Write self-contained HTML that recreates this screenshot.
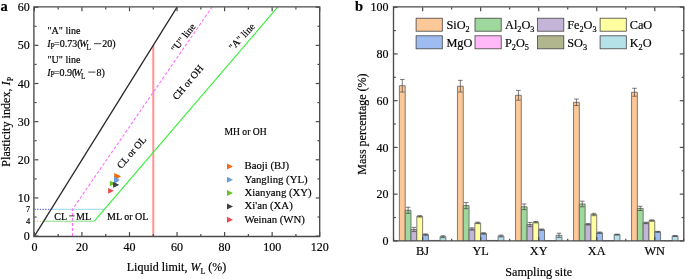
<!DOCTYPE html>
<html><head><meta charset="utf-8"><style>
html,body{margin:0;padding:0;background:#fff;width:685px;height:279px;overflow:hidden}
</style></head><body>
<svg width="685" height="279" viewBox="0 0 685 279" style="font-family:'Liberation Serif',serif;display:block;filter:blur(0.35px)">
<style>text{stroke:#000;stroke-width:0.18px;paint-order:fill}</style>
<rect width="685" height="279" fill="#fff"/>
<polyline points="34.40,209.39 51.04,209.39" fill="none" stroke="#6a6ad8" stroke-width="1.1" stroke-dasharray="1.3 1.4"/>
<polyline points="34.40,221.20 43.91,221.20" fill="none" stroke="#c8c888" stroke-width="1.1" stroke-dasharray="1.3 1.4"/>
<polyline points="51.04,209.39 104.75,209.39" fill="none" stroke="#a6e0ee" stroke-width="1.2"/>
<polyline points="153.28,236.10 153.28,45.35" fill="none" stroke="#ff9494" stroke-width="2"/>
<polyline points="72.44,236.10 72.44,209.39 211.92,7.20" fill="none" stroke="#ff6cff" stroke-width="1.1" stroke-dasharray="3 2"/>
<polyline points="43.91,221.20 94.30,221.20" fill="none" stroke="#84d884" stroke-width="1.0"/>
<polyline points="94.30,221.20 277.60,7.20" fill="none" stroke="#3cee3c" stroke-width="1.2"/>
<polyline points="34.40,236.10 177.05,7.20" fill="none" stroke="#2a2a2a" stroke-width="1.3"/>
<path d="M33.9,236.5 V6.9 H319.7 V236.5 Z" fill="none" stroke="#4a4a4a" stroke-width="1.35"/>
<line x1="34.40" y1="236.1" x2="34.40" y2="232.1" stroke="#4a4a4a" stroke-width="1.2"/>
<line x1="34.40" y1="7.2" x2="34.40" y2="11.2" stroke="#4a4a4a" stroke-width="1.2"/>
<line x1="58.17" y1="236.1" x2="58.17" y2="233.9" stroke="#4a4a4a" stroke-width="1.2"/>
<line x1="58.17" y1="7.2" x2="58.17" y2="9.4" stroke="#4a4a4a" stroke-width="1.2"/>
<line x1="81.95" y1="236.1" x2="81.95" y2="232.1" stroke="#4a4a4a" stroke-width="1.2"/>
<line x1="81.95" y1="7.2" x2="81.95" y2="11.2" stroke="#4a4a4a" stroke-width="1.2"/>
<line x1="105.72" y1="236.1" x2="105.72" y2="233.9" stroke="#4a4a4a" stroke-width="1.2"/>
<line x1="105.72" y1="7.2" x2="105.72" y2="9.4" stroke="#4a4a4a" stroke-width="1.2"/>
<line x1="129.50" y1="236.1" x2="129.50" y2="232.1" stroke="#4a4a4a" stroke-width="1.2"/>
<line x1="129.50" y1="7.2" x2="129.50" y2="11.2" stroke="#4a4a4a" stroke-width="1.2"/>
<line x1="153.28" y1="236.1" x2="153.28" y2="233.9" stroke="#4a4a4a" stroke-width="1.2"/>
<line x1="153.28" y1="7.2" x2="153.28" y2="9.4" stroke="#4a4a4a" stroke-width="1.2"/>
<line x1="177.05" y1="236.1" x2="177.05" y2="232.1" stroke="#4a4a4a" stroke-width="1.2"/>
<line x1="177.05" y1="7.2" x2="177.05" y2="11.2" stroke="#4a4a4a" stroke-width="1.2"/>
<line x1="200.83" y1="236.1" x2="200.83" y2="233.9" stroke="#4a4a4a" stroke-width="1.2"/>
<line x1="200.83" y1="7.2" x2="200.83" y2="9.4" stroke="#4a4a4a" stroke-width="1.2"/>
<line x1="224.60" y1="236.1" x2="224.60" y2="232.1" stroke="#4a4a4a" stroke-width="1.2"/>
<line x1="224.60" y1="7.2" x2="224.60" y2="11.2" stroke="#4a4a4a" stroke-width="1.2"/>
<line x1="248.38" y1="236.1" x2="248.38" y2="233.9" stroke="#4a4a4a" stroke-width="1.2"/>
<line x1="248.38" y1="7.2" x2="248.38" y2="9.4" stroke="#4a4a4a" stroke-width="1.2"/>
<line x1="272.15" y1="236.1" x2="272.15" y2="232.1" stroke="#4a4a4a" stroke-width="1.2"/>
<line x1="272.15" y1="7.2" x2="272.15" y2="11.2" stroke="#4a4a4a" stroke-width="1.2"/>
<line x1="295.92" y1="236.1" x2="295.92" y2="233.9" stroke="#4a4a4a" stroke-width="1.2"/>
<line x1="295.92" y1="7.2" x2="295.92" y2="9.4" stroke="#4a4a4a" stroke-width="1.2"/>
<line x1="319.70" y1="236.1" x2="319.70" y2="232.1" stroke="#4a4a4a" stroke-width="1.2"/>
<line x1="319.70" y1="7.2" x2="319.70" y2="11.2" stroke="#4a4a4a" stroke-width="1.2"/>
<line x1="34.4" y1="236.10" x2="38.4" y2="236.10" stroke="#4a4a4a" stroke-width="1.2"/>
<line x1="319.7" y1="236.10" x2="315.7" y2="236.10" stroke="#4a4a4a" stroke-width="1.2"/>
<line x1="34.4" y1="217.03" x2="36.6" y2="217.03" stroke="#4a4a4a" stroke-width="1.2"/>
<line x1="319.7" y1="217.03" x2="317.5" y2="217.03" stroke="#4a4a4a" stroke-width="1.2"/>
<line x1="34.4" y1="197.95" x2="38.4" y2="197.95" stroke="#4a4a4a" stroke-width="1.2"/>
<line x1="319.7" y1="197.95" x2="315.7" y2="197.95" stroke="#4a4a4a" stroke-width="1.2"/>
<line x1="34.4" y1="178.88" x2="36.6" y2="178.88" stroke="#4a4a4a" stroke-width="1.2"/>
<line x1="319.7" y1="178.88" x2="317.5" y2="178.88" stroke="#4a4a4a" stroke-width="1.2"/>
<line x1="34.4" y1="159.80" x2="38.4" y2="159.80" stroke="#4a4a4a" stroke-width="1.2"/>
<line x1="319.7" y1="159.80" x2="315.7" y2="159.80" stroke="#4a4a4a" stroke-width="1.2"/>
<line x1="34.4" y1="140.72" x2="36.6" y2="140.72" stroke="#4a4a4a" stroke-width="1.2"/>
<line x1="319.7" y1="140.72" x2="317.5" y2="140.72" stroke="#4a4a4a" stroke-width="1.2"/>
<line x1="34.4" y1="121.65" x2="38.4" y2="121.65" stroke="#4a4a4a" stroke-width="1.2"/>
<line x1="319.7" y1="121.65" x2="315.7" y2="121.65" stroke="#4a4a4a" stroke-width="1.2"/>
<line x1="34.4" y1="102.57" x2="36.6" y2="102.57" stroke="#4a4a4a" stroke-width="1.2"/>
<line x1="319.7" y1="102.57" x2="317.5" y2="102.57" stroke="#4a4a4a" stroke-width="1.2"/>
<line x1="34.4" y1="83.50" x2="38.4" y2="83.50" stroke="#4a4a4a" stroke-width="1.2"/>
<line x1="319.7" y1="83.50" x2="315.7" y2="83.50" stroke="#4a4a4a" stroke-width="1.2"/>
<line x1="34.4" y1="64.42" x2="36.6" y2="64.42" stroke="#4a4a4a" stroke-width="1.2"/>
<line x1="319.7" y1="64.42" x2="317.5" y2="64.42" stroke="#4a4a4a" stroke-width="1.2"/>
<line x1="34.4" y1="45.35" x2="38.4" y2="45.35" stroke="#4a4a4a" stroke-width="1.2"/>
<line x1="319.7" y1="45.35" x2="315.7" y2="45.35" stroke="#4a4a4a" stroke-width="1.2"/>
<line x1="34.4" y1="26.28" x2="36.6" y2="26.28" stroke="#4a4a4a" stroke-width="1.2"/>
<line x1="319.7" y1="26.28" x2="317.5" y2="26.28" stroke="#4a4a4a" stroke-width="1.2"/>
<line x1="34.4" y1="7.20" x2="38.4" y2="7.20" stroke="#4a4a4a" stroke-width="1.2"/>
<line x1="319.7" y1="7.20" x2="315.7" y2="7.20" stroke="#4a4a4a" stroke-width="1.2"/>
<text x="34.40" y="251" font-size="12" text-anchor="middle" fill="#000">0</text>
<text x="81.95" y="251" font-size="12" text-anchor="middle" fill="#000">20</text>
<text x="129.50" y="251" font-size="12" text-anchor="middle" fill="#000">40</text>
<text x="177.05" y="251" font-size="12" text-anchor="middle" fill="#000">60</text>
<text x="224.60" y="251" font-size="12" text-anchor="middle" fill="#000">80</text>
<text x="272.15" y="251" font-size="12" text-anchor="middle" fill="#000">100</text>
<text x="319.70" y="251" font-size="12" text-anchor="middle" fill="#000">120</text>
<text x="29.8" y="240.20" font-size="12" text-anchor="end" fill="#000">0</text>
<text x="29.8" y="202.05" font-size="12" text-anchor="end" fill="#000">10</text>
<text x="29.8" y="163.90" font-size="12" text-anchor="end" fill="#000">20</text>
<text x="29.8" y="125.75" font-size="12" text-anchor="end" fill="#000">30</text>
<text x="29.8" y="87.60" font-size="12" text-anchor="end" fill="#000">40</text>
<text x="29.8" y="49.45" font-size="12" text-anchor="end" fill="#000">50</text>
<text x="29.8" y="11.30" font-size="12" text-anchor="end" fill="#000">60</text>
<text x="30.2" y="223.84" font-size="8.5" text-anchor="end" fill="#000">4</text>
<text x="30.2" y="212.39" font-size="8.5" text-anchor="end" fill="#000">7</text>
<text x="176.5" y="270.5" font-size="12" text-anchor="middle" fill="#000">Liquid limit, <tspan font-style="italic">W</tspan><tspan font-size="8" dy="3.3">L</tspan><tspan dy="-3.3"> (%)</tspan></text>
<text transform="translate(9.6,121.8) rotate(-90)" font-size="12.15" text-anchor="middle" fill="#000">Plasticity index, <tspan font-style="italic">I</tspan><tspan font-size="8" dy="3.1">P</tspan></text>
<text x="0.5" y="11.2" font-size="14.5" font-weight="bold" fill="#000">a</text>
<text x="47.5" y="34.2" font-size="10" fill="#000">"A" line</text>
<text x="47.3" y="47.2" font-size="10" font-style="italic" fill="#000">I</text>
<text x="50.6" y="48.7" font-size="7.4" fill="#000">P</text>
<text x="54.0" y="47.2" font-size="10" fill="#000">=0.73(</text>
<text x="79.2" y="47.2" font-size="10" font-style="italic" fill="#000">W</text>
<text x="86.6" y="50.1" font-size="7.2" fill="#000">L</text>
<line x1="94.0" y1="43.7" x2="101.2" y2="43.7" stroke="#000" stroke-width="0.75"/>
<text x="102.2" y="47.2" font-size="10" fill="#000">20)</text>
<text x="47.3" y="75.6" font-size="10" font-style="italic" fill="#000">I</text>
<text x="50.6" y="77.1" font-size="7.4" fill="#000">P</text>
<text x="53.9" y="75.6" font-size="10" fill="#000">=0.9(</text>
<text x="73.4" y="75.6" font-size="10" font-style="italic" fill="#000">W</text>
<text x="80.9" y="78.5" font-size="7.2" fill="#000">L</text>
<line x1="88.2" y1="72.1" x2="95.4" y2="72.1" stroke="#000" stroke-width="0.75"/>
<text x="96.4" y="75.6" font-size="10" fill="#000">8)</text>
<text x="47.5" y="63" font-size="10" fill="#000">"U" line</text>
<text x="224.5" y="134.7" font-size="9.6" fill="#000">MH or OH</text>
<text x="54.3" y="219.5" font-size="10" fill="#000">CL</text>
<line x1="69.1" y1="215.9" x2="74.6" y2="215.9" stroke="#000" stroke-width="0.75"/>
<text x="76.1" y="219.5" font-size="10" fill="#000">ML</text>
<text x="107" y="219.5" font-size="10" fill="#000">ML or OL</text>
<text transform="translate(175.7,52.7) rotate(-52)" font-size="10" fill="#000">"U" line</text>
<text transform="translate(233,51) rotate(-47)" font-size="10" fill="#000">"A" line</text>
<text transform="translate(177,100.5) rotate(-50)" font-size="10" fill="#000">CH or OH</text>
<text transform="translate(121.2,169.3) rotate(-49)" font-size="10" fill="#000">CL or OL</text>
<polygon points="114.20,173.00 119.80,175.80 114.20,178.60" fill="#f86a12"/>
<polygon points="115.40,173.80 121.00,176.60 115.40,179.40" fill="#f86a12"/>
<polygon points="114.00,176.50 119.60,179.30 114.00,182.10" fill="#6a9ed8"/>
<polygon points="114.00,178.00 119.60,180.80 114.00,183.60" fill="#6a9ed8"/>
<polygon points="109.90,180.70 115.50,183.50 109.90,186.30" fill="#68c226"/>
<polygon points="113.10,182.20 118.70,185.00 113.10,187.80" fill="#404040"/>
<polygon points="113.50,181.90 119.10,184.70 113.50,187.50" fill="#404040"/>
<polygon points="108.10,187.90 113.90,190.80 108.10,193.70" fill="#e84a50"/>
<polygon points="227.00,163.50 233.00,166.50 227.00,169.50" fill="#f86a12"/>
<text x="244.5" y="169.4" font-size="10.75" fill="#000">Baoji (BJ)</text>
<polygon points="227.00,176.80 233.00,179.80 227.00,182.80" fill="#6a9ed8"/>
<text x="244.5" y="182.70000000000002" font-size="10.75" fill="#000">Yangling (YL)</text>
<polygon points="227.00,190.10 233.00,193.10 227.00,196.10" fill="#68c226"/>
<text x="244.5" y="196.0" font-size="10.75" fill="#000">Xianyang (XY)</text>
<polygon points="227.00,203.40 233.00,206.40 227.00,209.40" fill="#404040"/>
<text x="244.5" y="209.3" font-size="10.75" fill="#000">Xi'an (XA)</text>
<polygon points="227.00,216.70 233.00,219.70 227.00,222.70" fill="#e84a50"/>
<text x="244.5" y="222.60000000000002" font-size="10.75" fill="#000">Weinan (WN)</text>
<text x="355" y="10.9" font-size="14.5" font-weight="bold" fill="#000">b</text>
<rect x="399.40" y="85.72" width="5.80" height="155.18" fill="#fdc898"/>
<path d="M399.40,240.9 V85.72 H405.21 V240.9" fill="none" stroke="#555" stroke-width="0.75"/>
<line x1="402.31" y1="79.41" x2="402.31" y2="92.03" stroke="#444" stroke-width="0.7"/>
<line x1="400.01" y1="79.41" x2="404.61" y2="79.41" stroke="#444" stroke-width="0.7"/>
<line x1="400.01" y1="92.03" x2="404.61" y2="92.03" stroke="#444" stroke-width="0.7"/>
<rect x="405.21" y="210.29" width="5.80" height="30.61" fill="#9ed89c"/>
<path d="M405.21,240.9 V210.29 H411.01 V240.9" fill="none" stroke="#555" stroke-width="0.75"/>
<line x1="408.11" y1="207.25" x2="408.11" y2="213.32" stroke="#444" stroke-width="0.7"/>
<line x1="405.81" y1="207.25" x2="410.41" y2="207.25" stroke="#444" stroke-width="0.7"/>
<line x1="405.81" y1="213.32" x2="410.41" y2="213.32" stroke="#444" stroke-width="0.7"/>
<rect x="411.01" y="229.45" width="5.80" height="11.45" fill="#c4b4d8"/>
<path d="M411.01,240.9 V229.45 H416.82 V240.9" fill="none" stroke="#555" stroke-width="0.75"/>
<line x1="413.91" y1="227.35" x2="413.91" y2="231.55" stroke="#444" stroke-width="0.7"/>
<line x1="411.61" y1="227.35" x2="416.21" y2="227.35" stroke="#444" stroke-width="0.7"/>
<line x1="411.61" y1="231.55" x2="416.21" y2="231.55" stroke="#444" stroke-width="0.7"/>
<rect x="416.82" y="216.36" width="5.80" height="24.54" fill="#ffffa0"/>
<path d="M416.82,240.9 V216.36 H422.62 V240.9" fill="none" stroke="#555" stroke-width="0.75"/>
<line x1="419.72" y1="215.66" x2="419.72" y2="217.06" stroke="#444" stroke-width="0.7"/>
<line x1="417.42" y1="215.66" x2="422.02" y2="215.66" stroke="#444" stroke-width="0.7"/>
<line x1="417.42" y1="217.06" x2="422.02" y2="217.06" stroke="#444" stroke-width="0.7"/>
<rect x="422.62" y="234.59" width="5.80" height="6.31" fill="#9ebcf2"/>
<path d="M422.62,240.9 V234.59 H428.42 V240.9" fill="none" stroke="#555" stroke-width="0.75"/>
<line x1="425.52" y1="233.89" x2="425.52" y2="235.29" stroke="#444" stroke-width="0.7"/>
<line x1="423.22" y1="233.89" x2="427.82" y2="233.89" stroke="#444" stroke-width="0.7"/>
<line x1="423.22" y1="235.29" x2="427.82" y2="235.29" stroke="#444" stroke-width="0.7"/>
<rect x="428.42" y="240.43" width="5.80" height="0.47" fill="#ffb8f8"/>
<path d="M428.42,240.9 V240.43 H434.23 V240.9" fill="none" stroke="#555" stroke-width="0.75"/>
<rect x="434.23" y="240.43" width="5.80" height="0.47" fill="#b2b68e"/>
<path d="M434.23,240.9 V240.43 H440.03 V240.9" fill="none" stroke="#555" stroke-width="0.75"/>
<rect x="440.03" y="236.69" width="5.80" height="4.21" fill="#b4e2e8"/>
<path d="M440.03,240.9 V236.69 H445.84 V240.9" fill="none" stroke="#555" stroke-width="0.75"/>
<line x1="442.93" y1="235.76" x2="442.93" y2="237.63" stroke="#444" stroke-width="0.7"/>
<line x1="440.63" y1="235.76" x2="445.23" y2="235.76" stroke="#444" stroke-width="0.7"/>
<line x1="440.63" y1="237.63" x2="445.23" y2="237.63" stroke="#444" stroke-width="0.7"/>
<text x="422.62" y="255.4" font-size="12.3" text-anchor="middle" fill="#000">BJ</text>
<rect x="457.44" y="86.19" width="5.80" height="154.71" fill="#fdc898"/>
<path d="M457.44,240.9 V86.19 H463.25 V240.9" fill="none" stroke="#555" stroke-width="0.75"/>
<line x1="460.35" y1="80.35" x2="460.35" y2="92.03" stroke="#444" stroke-width="0.7"/>
<line x1="458.05" y1="80.35" x2="462.65" y2="80.35" stroke="#444" stroke-width="0.7"/>
<line x1="458.05" y1="92.03" x2="462.65" y2="92.03" stroke="#444" stroke-width="0.7"/>
<rect x="463.25" y="205.61" width="5.80" height="35.29" fill="#9ed89c"/>
<path d="M463.25,240.9 V205.61 H469.05 V240.9" fill="none" stroke="#555" stroke-width="0.75"/>
<line x1="466.15" y1="202.57" x2="466.15" y2="208.65" stroke="#444" stroke-width="0.7"/>
<line x1="463.85" y1="202.57" x2="468.45" y2="202.57" stroke="#444" stroke-width="0.7"/>
<line x1="463.85" y1="208.65" x2="468.45" y2="208.65" stroke="#444" stroke-width="0.7"/>
<rect x="469.05" y="228.98" width="5.80" height="11.92" fill="#c4b4d8"/>
<path d="M469.05,240.9 V228.98 H474.86 V240.9" fill="none" stroke="#555" stroke-width="0.75"/>
<line x1="471.95" y1="227.81" x2="471.95" y2="230.15" stroke="#444" stroke-width="0.7"/>
<line x1="469.65" y1="227.81" x2="474.25" y2="227.81" stroke="#444" stroke-width="0.7"/>
<line x1="469.65" y1="230.15" x2="474.25" y2="230.15" stroke="#444" stroke-width="0.7"/>
<rect x="474.86" y="222.91" width="5.80" height="17.99" fill="#ffffa0"/>
<path d="M474.86,240.9 V222.91 H480.66 V240.9" fill="none" stroke="#555" stroke-width="0.75"/>
<line x1="477.76" y1="222.20" x2="477.76" y2="223.61" stroke="#444" stroke-width="0.7"/>
<line x1="475.46" y1="222.20" x2="480.06" y2="222.20" stroke="#444" stroke-width="0.7"/>
<line x1="475.46" y1="223.61" x2="480.06" y2="223.61" stroke="#444" stroke-width="0.7"/>
<rect x="480.66" y="233.42" width="5.80" height="7.48" fill="#9ebcf2"/>
<path d="M480.66,240.9 V233.42 H486.46 V240.9" fill="none" stroke="#555" stroke-width="0.75"/>
<line x1="483.56" y1="232.72" x2="483.56" y2="234.12" stroke="#444" stroke-width="0.7"/>
<line x1="481.26" y1="232.72" x2="485.86" y2="232.72" stroke="#444" stroke-width="0.7"/>
<line x1="481.26" y1="234.12" x2="485.86" y2="234.12" stroke="#444" stroke-width="0.7"/>
<rect x="486.46" y="240.43" width="5.80" height="0.47" fill="#ffb8f8"/>
<path d="M486.46,240.9 V240.43 H492.27 V240.9" fill="none" stroke="#555" stroke-width="0.75"/>
<rect x="492.27" y="240.43" width="5.80" height="0.47" fill="#b2b68e"/>
<path d="M492.27,240.9 V240.43 H498.07 V240.9" fill="none" stroke="#555" stroke-width="0.75"/>
<rect x="498.07" y="235.99" width="5.80" height="4.91" fill="#b4e2e8"/>
<path d="M498.07,240.9 V235.99 H503.88 V240.9" fill="none" stroke="#555" stroke-width="0.75"/>
<line x1="500.97" y1="235.06" x2="500.97" y2="236.93" stroke="#444" stroke-width="0.7"/>
<line x1="498.67" y1="235.06" x2="503.27" y2="235.06" stroke="#444" stroke-width="0.7"/>
<line x1="498.67" y1="236.93" x2="503.27" y2="236.93" stroke="#444" stroke-width="0.7"/>
<text x="480.66" y="255.4" font-size="12.3" text-anchor="middle" fill="#000">YL</text>
<rect x="515.48" y="95.30" width="5.80" height="145.60" fill="#fdc898"/>
<path d="M515.48,240.9 V95.30 H521.29 V240.9" fill="none" stroke="#555" stroke-width="0.75"/>
<line x1="518.39" y1="90.40" x2="518.39" y2="100.21" stroke="#444" stroke-width="0.7"/>
<line x1="516.09" y1="90.40" x2="520.69" y2="90.40" stroke="#444" stroke-width="0.7"/>
<line x1="516.09" y1="100.21" x2="520.69" y2="100.21" stroke="#444" stroke-width="0.7"/>
<rect x="521.29" y="206.78" width="5.80" height="34.12" fill="#9ed89c"/>
<path d="M521.29,240.9 V206.78 H527.09 V240.9" fill="none" stroke="#555" stroke-width="0.75"/>
<line x1="524.19" y1="203.98" x2="524.19" y2="209.58" stroke="#444" stroke-width="0.7"/>
<line x1="521.89" y1="203.98" x2="526.49" y2="203.98" stroke="#444" stroke-width="0.7"/>
<line x1="521.89" y1="209.58" x2="526.49" y2="209.58" stroke="#444" stroke-width="0.7"/>
<rect x="527.09" y="224.54" width="5.80" height="16.36" fill="#c4b4d8"/>
<path d="M527.09,240.9 V224.54 H532.90 V240.9" fill="none" stroke="#555" stroke-width="0.75"/>
<line x1="529.99" y1="222.44" x2="529.99" y2="226.64" stroke="#444" stroke-width="0.7"/>
<line x1="527.69" y1="222.44" x2="532.29" y2="222.44" stroke="#444" stroke-width="0.7"/>
<line x1="527.69" y1="226.64" x2="532.29" y2="226.64" stroke="#444" stroke-width="0.7"/>
<rect x="532.90" y="222.20" width="5.80" height="18.70" fill="#ffffa0"/>
<path d="M532.90,240.9 V222.20 H538.70 V240.9" fill="none" stroke="#555" stroke-width="0.75"/>
<line x1="535.80" y1="221.50" x2="535.80" y2="222.91" stroke="#444" stroke-width="0.7"/>
<line x1="533.50" y1="221.50" x2="538.10" y2="221.50" stroke="#444" stroke-width="0.7"/>
<line x1="533.50" y1="222.91" x2="538.10" y2="222.91" stroke="#444" stroke-width="0.7"/>
<rect x="538.70" y="229.68" width="5.80" height="11.22" fill="#9ebcf2"/>
<path d="M538.70,240.9 V229.68 H544.50 V240.9" fill="none" stroke="#555" stroke-width="0.75"/>
<line x1="541.60" y1="228.98" x2="541.60" y2="230.38" stroke="#444" stroke-width="0.7"/>
<line x1="539.30" y1="228.98" x2="543.90" y2="228.98" stroke="#444" stroke-width="0.7"/>
<line x1="539.30" y1="230.38" x2="543.90" y2="230.38" stroke="#444" stroke-width="0.7"/>
<rect x="544.50" y="240.67" width="5.80" height="0.23" fill="#ffb8f8"/>
<path d="M544.50,240.9 V240.67 H550.31 V240.9" fill="none" stroke="#555" stroke-width="0.75"/>
<rect x="550.31" y="240.67" width="5.80" height="0.23" fill="#b2b68e"/>
<path d="M550.31,240.9 V240.67 H556.11 V240.9" fill="none" stroke="#555" stroke-width="0.75"/>
<rect x="556.11" y="235.29" width="5.80" height="5.61" fill="#b4e2e8"/>
<path d="M556.11,240.9 V235.29 H561.92 V240.9" fill="none" stroke="#555" stroke-width="0.75"/>
<line x1="559.01" y1="233.19" x2="559.01" y2="237.39" stroke="#444" stroke-width="0.7"/>
<line x1="556.71" y1="233.19" x2="561.31" y2="233.19" stroke="#444" stroke-width="0.7"/>
<line x1="556.71" y1="237.39" x2="561.31" y2="237.39" stroke="#444" stroke-width="0.7"/>
<text x="538.70" y="255.4" font-size="12.3" text-anchor="middle" fill="#000">XY</text>
<rect x="573.52" y="102.32" width="5.80" height="138.58" fill="#fdc898"/>
<path d="M573.52,240.9 V102.32 H579.33 V240.9" fill="none" stroke="#555" stroke-width="0.75"/>
<line x1="576.43" y1="99.04" x2="576.43" y2="105.59" stroke="#444" stroke-width="0.7"/>
<line x1="574.13" y1="99.04" x2="578.73" y2="99.04" stroke="#444" stroke-width="0.7"/>
<line x1="574.13" y1="105.59" x2="578.73" y2="105.59" stroke="#444" stroke-width="0.7"/>
<rect x="579.33" y="203.98" width="5.80" height="36.92" fill="#9ed89c"/>
<path d="M579.33,240.9 V203.98 H585.13 V240.9" fill="none" stroke="#555" stroke-width="0.75"/>
<line x1="582.23" y1="201.17" x2="582.23" y2="206.78" stroke="#444" stroke-width="0.7"/>
<line x1="579.93" y1="201.17" x2="584.53" y2="201.17" stroke="#444" stroke-width="0.7"/>
<line x1="579.93" y1="206.78" x2="584.53" y2="206.78" stroke="#444" stroke-width="0.7"/>
<rect x="585.13" y="224.31" width="5.80" height="16.59" fill="#c4b4d8"/>
<path d="M585.13,240.9 V224.31 H590.94 V240.9" fill="none" stroke="#555" stroke-width="0.75"/>
<line x1="588.03" y1="223.61" x2="588.03" y2="225.01" stroke="#444" stroke-width="0.7"/>
<line x1="585.73" y1="223.61" x2="590.33" y2="223.61" stroke="#444" stroke-width="0.7"/>
<line x1="585.73" y1="225.01" x2="590.33" y2="225.01" stroke="#444" stroke-width="0.7"/>
<rect x="590.94" y="214.49" width="5.80" height="26.41" fill="#ffffa0"/>
<path d="M590.94,240.9 V214.49 H596.74 V240.9" fill="none" stroke="#555" stroke-width="0.75"/>
<line x1="593.84" y1="213.32" x2="593.84" y2="215.66" stroke="#444" stroke-width="0.7"/>
<line x1="591.54" y1="213.32" x2="596.14" y2="213.32" stroke="#444" stroke-width="0.7"/>
<line x1="591.54" y1="215.66" x2="596.14" y2="215.66" stroke="#444" stroke-width="0.7"/>
<rect x="596.74" y="232.72" width="5.80" height="8.18" fill="#9ebcf2"/>
<path d="M596.74,240.9 V232.72 H602.54 V240.9" fill="none" stroke="#555" stroke-width="0.75"/>
<line x1="599.64" y1="232.02" x2="599.64" y2="233.42" stroke="#444" stroke-width="0.7"/>
<line x1="597.34" y1="232.02" x2="601.94" y2="232.02" stroke="#444" stroke-width="0.7"/>
<line x1="597.34" y1="233.42" x2="601.94" y2="233.42" stroke="#444" stroke-width="0.7"/>
<rect x="602.54" y="240.67" width="5.80" height="0.23" fill="#ffb8f8"/>
<path d="M602.54,240.9 V240.67 H608.35 V240.9" fill="none" stroke="#555" stroke-width="0.75"/>
<rect x="608.35" y="240.67" width="5.80" height="0.23" fill="#b2b68e"/>
<path d="M608.35,240.9 V240.67 H614.15 V240.9" fill="none" stroke="#555" stroke-width="0.75"/>
<rect x="614.15" y="234.59" width="5.80" height="6.31" fill="#b4e2e8"/>
<path d="M614.15,240.9 V234.59 H619.96 V240.9" fill="none" stroke="#555" stroke-width="0.75"/>
<line x1="617.05" y1="234.12" x2="617.05" y2="235.06" stroke="#444" stroke-width="0.7"/>
<line x1="614.75" y1="234.12" x2="619.35" y2="234.12" stroke="#444" stroke-width="0.7"/>
<line x1="614.75" y1="235.06" x2="619.35" y2="235.06" stroke="#444" stroke-width="0.7"/>
<text x="596.74" y="255.4" font-size="12.3" text-anchor="middle" fill="#000">XA</text>
<rect x="631.56" y="92.27" width="5.80" height="148.63" fill="#fdc898"/>
<path d="M631.56,240.9 V92.27 H637.37 V240.9" fill="none" stroke="#555" stroke-width="0.75"/>
<line x1="634.47" y1="88.29" x2="634.47" y2="96.24" stroke="#444" stroke-width="0.7"/>
<line x1="632.17" y1="88.29" x2="636.77" y2="88.29" stroke="#444" stroke-width="0.7"/>
<line x1="632.17" y1="96.24" x2="636.77" y2="96.24" stroke="#444" stroke-width="0.7"/>
<rect x="637.37" y="208.42" width="5.80" height="32.48" fill="#9ed89c"/>
<path d="M637.37,240.9 V208.42 H643.17 V240.9" fill="none" stroke="#555" stroke-width="0.75"/>
<line x1="640.27" y1="206.31" x2="640.27" y2="210.52" stroke="#444" stroke-width="0.7"/>
<line x1="637.97" y1="206.31" x2="642.57" y2="206.31" stroke="#444" stroke-width="0.7"/>
<line x1="637.97" y1="210.52" x2="642.57" y2="210.52" stroke="#444" stroke-width="0.7"/>
<rect x="643.17" y="222.91" width="5.80" height="17.99" fill="#c4b4d8"/>
<path d="M643.17,240.9 V222.91 H648.98 V240.9" fill="none" stroke="#555" stroke-width="0.75"/>
<line x1="646.07" y1="222.20" x2="646.07" y2="223.61" stroke="#444" stroke-width="0.7"/>
<line x1="643.77" y1="222.20" x2="648.37" y2="222.20" stroke="#444" stroke-width="0.7"/>
<line x1="643.77" y1="223.61" x2="648.37" y2="223.61" stroke="#444" stroke-width="0.7"/>
<rect x="648.98" y="220.57" width="5.80" height="20.33" fill="#ffffa0"/>
<path d="M648.98,240.9 V220.57 H654.78 V240.9" fill="none" stroke="#555" stroke-width="0.75"/>
<line x1="651.88" y1="219.87" x2="651.88" y2="221.27" stroke="#444" stroke-width="0.7"/>
<line x1="649.58" y1="219.87" x2="654.18" y2="219.87" stroke="#444" stroke-width="0.7"/>
<line x1="649.58" y1="221.27" x2="654.18" y2="221.27" stroke="#444" stroke-width="0.7"/>
<rect x="654.78" y="231.79" width="5.80" height="9.11" fill="#9ebcf2"/>
<path d="M654.78,240.9 V231.79 H660.58 V240.9" fill="none" stroke="#555" stroke-width="0.75"/>
<line x1="657.68" y1="231.32" x2="657.68" y2="232.25" stroke="#444" stroke-width="0.7"/>
<line x1="655.38" y1="231.32" x2="659.98" y2="231.32" stroke="#444" stroke-width="0.7"/>
<line x1="655.38" y1="232.25" x2="659.98" y2="232.25" stroke="#444" stroke-width="0.7"/>
<rect x="660.58" y="240.67" width="5.80" height="0.23" fill="#ffb8f8"/>
<path d="M660.58,240.9 V240.67 H666.39 V240.9" fill="none" stroke="#555" stroke-width="0.75"/>
<rect x="666.39" y="240.67" width="5.80" height="0.23" fill="#b2b68e"/>
<path d="M666.39,240.9 V240.67 H672.19 V240.9" fill="none" stroke="#555" stroke-width="0.75"/>
<rect x="672.19" y="235.99" width="5.80" height="4.91" fill="#b4e2e8"/>
<path d="M672.19,240.9 V235.99 H678.00 V240.9" fill="none" stroke="#555" stroke-width="0.75"/>
<line x1="675.09" y1="235.52" x2="675.09" y2="236.46" stroke="#444" stroke-width="0.7"/>
<line x1="672.79" y1="235.52" x2="677.39" y2="235.52" stroke="#444" stroke-width="0.7"/>
<line x1="672.79" y1="236.46" x2="677.39" y2="236.46" stroke="#444" stroke-width="0.7"/>
<text x="654.78" y="255.4" font-size="12.3" text-anchor="middle" fill="#000">WN</text>
<path d="M393.5,240.9 V6.9 H683.8 V240.9 Z" fill="none" stroke="#4a4a4a" stroke-width="1.35"/>
<line x1="393.6" y1="240.90" x2="397.6" y2="240.90" stroke="#4a4a4a" stroke-width="1.2"/>
<line x1="683.8" y1="240.90" x2="679.8" y2="240.90" stroke="#4a4a4a" stroke-width="1.2"/>
<text x="388.5" y="245.00" font-size="12" text-anchor="end" fill="#000">0</text>
<line x1="393.6" y1="217.53" x2="395.8" y2="217.53" stroke="#4a4a4a" stroke-width="1.2"/>
<line x1="683.8" y1="217.53" x2="681.5999999999999" y2="217.53" stroke="#4a4a4a" stroke-width="1.2"/>
<line x1="393.6" y1="194.16" x2="397.6" y2="194.16" stroke="#4a4a4a" stroke-width="1.2"/>
<line x1="683.8" y1="194.16" x2="679.8" y2="194.16" stroke="#4a4a4a" stroke-width="1.2"/>
<text x="388.5" y="198.26" font-size="12" text-anchor="end" fill="#000">20</text>
<line x1="393.6" y1="170.79" x2="395.8" y2="170.79" stroke="#4a4a4a" stroke-width="1.2"/>
<line x1="683.8" y1="170.79" x2="681.5999999999999" y2="170.79" stroke="#4a4a4a" stroke-width="1.2"/>
<line x1="393.6" y1="147.42" x2="397.6" y2="147.42" stroke="#4a4a4a" stroke-width="1.2"/>
<line x1="683.8" y1="147.42" x2="679.8" y2="147.42" stroke="#4a4a4a" stroke-width="1.2"/>
<text x="388.5" y="151.52" font-size="12" text-anchor="end" fill="#000">40</text>
<line x1="393.6" y1="124.05" x2="395.8" y2="124.05" stroke="#4a4a4a" stroke-width="1.2"/>
<line x1="683.8" y1="124.05" x2="681.5999999999999" y2="124.05" stroke="#4a4a4a" stroke-width="1.2"/>
<line x1="393.6" y1="100.68" x2="397.6" y2="100.68" stroke="#4a4a4a" stroke-width="1.2"/>
<line x1="683.8" y1="100.68" x2="679.8" y2="100.68" stroke="#4a4a4a" stroke-width="1.2"/>
<text x="388.5" y="104.78" font-size="12" text-anchor="end" fill="#000">60</text>
<line x1="393.6" y1="77.31" x2="395.8" y2="77.31" stroke="#4a4a4a" stroke-width="1.2"/>
<line x1="683.8" y1="77.31" x2="681.5999999999999" y2="77.31" stroke="#4a4a4a" stroke-width="1.2"/>
<line x1="393.6" y1="53.94" x2="397.6" y2="53.94" stroke="#4a4a4a" stroke-width="1.2"/>
<line x1="683.8" y1="53.94" x2="679.8" y2="53.94" stroke="#4a4a4a" stroke-width="1.2"/>
<text x="388.5" y="58.04" font-size="12" text-anchor="end" fill="#000">80</text>
<line x1="393.6" y1="30.57" x2="395.8" y2="30.57" stroke="#4a4a4a" stroke-width="1.2"/>
<line x1="683.8" y1="30.57" x2="681.5999999999999" y2="30.57" stroke="#4a4a4a" stroke-width="1.2"/>
<line x1="393.6" y1="7.20" x2="397.6" y2="7.20" stroke="#4a4a4a" stroke-width="1.2"/>
<line x1="683.8" y1="7.20" x2="679.8" y2="7.20" stroke="#4a4a4a" stroke-width="1.2"/>
<text x="388.5" y="11.30" font-size="12" text-anchor="end" fill="#000">100</text>
<line x1="393.60" y1="240.9" x2="393.60" y2="238.70000000000002" stroke="#4a4a4a" stroke-width="1.2"/>
<line x1="393.60" y1="7.2" x2="393.60" y2="9.4" stroke="#4a4a4a" stroke-width="1.2"/>
<line x1="422.62" y1="240.9" x2="422.62" y2="236.9" stroke="#4a4a4a" stroke-width="1.2"/>
<line x1="422.62" y1="7.2" x2="422.62" y2="11.2" stroke="#4a4a4a" stroke-width="1.2"/>
<line x1="451.64" y1="240.9" x2="451.64" y2="238.70000000000002" stroke="#4a4a4a" stroke-width="1.2"/>
<line x1="451.64" y1="7.2" x2="451.64" y2="9.4" stroke="#4a4a4a" stroke-width="1.2"/>
<line x1="480.66" y1="240.9" x2="480.66" y2="236.9" stroke="#4a4a4a" stroke-width="1.2"/>
<line x1="480.66" y1="7.2" x2="480.66" y2="11.2" stroke="#4a4a4a" stroke-width="1.2"/>
<line x1="509.68" y1="240.9" x2="509.68" y2="238.70000000000002" stroke="#4a4a4a" stroke-width="1.2"/>
<line x1="509.68" y1="7.2" x2="509.68" y2="9.4" stroke="#4a4a4a" stroke-width="1.2"/>
<line x1="538.70" y1="240.9" x2="538.70" y2="236.9" stroke="#4a4a4a" stroke-width="1.2"/>
<line x1="538.70" y1="7.2" x2="538.70" y2="11.2" stroke="#4a4a4a" stroke-width="1.2"/>
<line x1="567.72" y1="240.9" x2="567.72" y2="238.70000000000002" stroke="#4a4a4a" stroke-width="1.2"/>
<line x1="567.72" y1="7.2" x2="567.72" y2="9.4" stroke="#4a4a4a" stroke-width="1.2"/>
<line x1="596.74" y1="240.9" x2="596.74" y2="236.9" stroke="#4a4a4a" stroke-width="1.2"/>
<line x1="596.74" y1="7.2" x2="596.74" y2="11.2" stroke="#4a4a4a" stroke-width="1.2"/>
<line x1="625.76" y1="240.9" x2="625.76" y2="238.70000000000002" stroke="#4a4a4a" stroke-width="1.2"/>
<line x1="625.76" y1="7.2" x2="625.76" y2="9.4" stroke="#4a4a4a" stroke-width="1.2"/>
<line x1="654.78" y1="240.9" x2="654.78" y2="236.9" stroke="#4a4a4a" stroke-width="1.2"/>
<line x1="654.78" y1="7.2" x2="654.78" y2="11.2" stroke="#4a4a4a" stroke-width="1.2"/>
<line x1="683.80" y1="240.9" x2="683.80" y2="238.70000000000002" stroke="#4a4a4a" stroke-width="1.2"/>
<line x1="683.80" y1="7.2" x2="683.80" y2="9.4" stroke="#4a4a4a" stroke-width="1.2"/>
<text x="538.7" y="275.7" font-size="12.2" text-anchor="middle" fill="#000">Sampling site</text>
<text transform="translate(365.5,124.1) rotate(-90)" font-size="12" text-anchor="middle" fill="#000">Mass percentage (%)</text>
<rect x="416.1" y="18.2" width="26.2" height="13" fill="#fdc898" stroke="#444" stroke-width="0.8"/>
<text x="446.4" y="28.90" font-size="12.3" fill="#000">SiO<tspan font-size='8.2' dy='3.5'>2</tspan></text>
<rect x="475.0" y="18.2" width="26.2" height="13" fill="#9ed89c" stroke="#444" stroke-width="0.8"/>
<text x="505.0" y="28.90" font-size="12.3" fill="#000">Al<tspan font-size='8.2' dy='3.5'>2</tspan><tspan dy='-3.5'>O</tspan><tspan font-size='8.2' dy='3.5'>3</tspan></text>
<rect x="537.6" y="18.2" width="26.2" height="13" fill="#c4b4d8" stroke="#444" stroke-width="0.8"/>
<text x="567.2" y="28.90" font-size="12.3" fill="#000">Fe<tspan font-size='8.2' dy='3.5'>2</tspan><tspan dy='-3.5'>O</tspan><tspan font-size='8.2' dy='3.5'>3</tspan></text>
<rect x="600.1" y="18.2" width="26.2" height="13" fill="#ffffa0" stroke="#444" stroke-width="0.8"/>
<text x="629.7" y="28.90" font-size="12.3" fill="#000">CaO</text>
<rect x="416.1" y="35.8" width="26.2" height="13" fill="#9ebcf2" stroke="#444" stroke-width="0.8"/>
<text x="446.4" y="46.50" font-size="12.3" fill="#000">MgO</text>
<rect x="475.0" y="35.8" width="26.2" height="13" fill="#ffb8f8" stroke="#444" stroke-width="0.8"/>
<text x="505.0" y="46.50" font-size="12.3" fill="#000">P<tspan font-size='8.2' dy='3.5'>2</tspan><tspan dy='-3.5'>O</tspan><tspan font-size='8.2' dy='3.5'>5</tspan></text>
<rect x="537.6" y="35.8" width="26.2" height="13" fill="#b2b68e" stroke="#444" stroke-width="0.8"/>
<text x="567.2" y="46.50" font-size="12.3" fill="#000">SO<tspan font-size='8.2' dy='3.5'>3</tspan></text>
<rect x="600.1" y="35.8" width="26.2" height="13" fill="#b4e2e8" stroke="#444" stroke-width="0.8"/>
<text x="629.7" y="46.50" font-size="12.3" fill="#000">K<tspan font-size='8.2' dy='3.5'>2</tspan><tspan dy='-3.5'>O</tspan></text>
</svg>
</body></html>
